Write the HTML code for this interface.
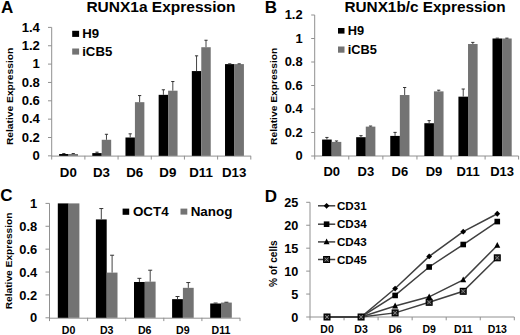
<!DOCTYPE html>
<html><head><meta charset="utf-8"><style>
html,body{margin:0;padding:0;background:#fff;width:520px;height:335px;overflow:hidden}
svg{display:block}
</style></head><body>
<svg width="520" height="335" viewBox="0 0 520 335">
<rect width="520" height="335" fill="#fff"/>
<g font-family='"Liberation Sans", sans-serif' font-weight="bold" fill="#000">
<line x1="51.70" y1="27.40" x2="51.70" y2="159.55" stroke="#909090" stroke-width="1"/>
<line x1="48.00" y1="155.85" x2="51.70" y2="155.85" stroke="#909090" stroke-width="1"/>
<text x="39.90" y="160.05" font-size="13.1" text-anchor="end" >0</text>
<line x1="48.00" y1="137.50" x2="51.70" y2="137.50" stroke="#909090" stroke-width="1"/>
<text x="39.90" y="141.70" font-size="13.1" text-anchor="end" >0.2</text>
<line x1="48.00" y1="119.15" x2="51.70" y2="119.15" stroke="#909090" stroke-width="1"/>
<text x="39.90" y="123.35" font-size="13.1" text-anchor="end" >0.4</text>
<line x1="48.00" y1="100.80" x2="51.70" y2="100.80" stroke="#909090" stroke-width="1"/>
<text x="39.90" y="105.00" font-size="13.1" text-anchor="end" >0.6</text>
<line x1="48.00" y1="82.45" x2="51.70" y2="82.45" stroke="#909090" stroke-width="1"/>
<text x="39.90" y="86.65" font-size="13.1" text-anchor="end" >0.8</text>
<line x1="48.00" y1="64.10" x2="51.70" y2="64.10" stroke="#909090" stroke-width="1"/>
<text x="39.90" y="68.30" font-size="13.1" text-anchor="end" >1</text>
<line x1="48.00" y1="45.75" x2="51.70" y2="45.75" stroke="#909090" stroke-width="1"/>
<text x="39.90" y="49.95" font-size="13.1" text-anchor="end" >1.2</text>
<line x1="48.00" y1="27.40" x2="51.70" y2="27.40" stroke="#909090" stroke-width="1"/>
<text x="39.90" y="31.60" font-size="13.1" text-anchor="end" >1.4</text>
<line x1="51.70" y1="156.10" x2="250.80" y2="156.10" stroke="#909090" stroke-width="1"/>
<line x1="84.88" y1="155.85" x2="84.88" y2="159.55" stroke="#909090" stroke-width="1"/>
<line x1="118.07" y1="155.85" x2="118.07" y2="159.55" stroke="#909090" stroke-width="1"/>
<line x1="151.25" y1="155.85" x2="151.25" y2="159.55" stroke="#909090" stroke-width="1"/>
<line x1="184.43" y1="155.85" x2="184.43" y2="159.55" stroke="#909090" stroke-width="1"/>
<line x1="217.62" y1="155.85" x2="217.62" y2="159.55" stroke="#909090" stroke-width="1"/>
<line x1="250.80" y1="155.85" x2="250.80" y2="159.55" stroke="#909090" stroke-width="1"/>
<rect x="59.10" y="154.01" width="9.45" height="1.84" fill="#000"/>
<line x1="63.83" y1="153.56" x2="63.83" y2="154.01" stroke="#444" stroke-width="1"/>
<line x1="62.23" y1="153.56" x2="65.42" y2="153.56" stroke="#333" stroke-width="1.0"/>
<rect x="68.55" y="154.01" width="9.45" height="1.84" fill="#737373"/>
<line x1="73.27" y1="153.56" x2="73.27" y2="154.01" stroke="#444" stroke-width="1"/>
<line x1="71.67" y1="153.56" x2="74.87" y2="153.56" stroke="#333" stroke-width="1.0"/>
<text x="68.29" y="176.60" font-size="13.3" text-anchor="middle" >D0</text>
<rect x="92.28" y="153.10" width="9.45" height="2.75" fill="#000"/>
<line x1="97.01" y1="152.18" x2="97.01" y2="153.10" stroke="#444" stroke-width="1"/>
<line x1="95.41" y1="152.18" x2="98.61" y2="152.18" stroke="#333" stroke-width="1.0"/>
<rect x="101.73" y="139.79" width="9.45" height="16.06" fill="#737373"/>
<line x1="106.46" y1="134.29" x2="106.46" y2="139.79" stroke="#444" stroke-width="1"/>
<line x1="104.86" y1="134.29" x2="108.06" y2="134.29" stroke="#333" stroke-width="1.0"/>
<text x="101.48" y="176.60" font-size="13.3" text-anchor="middle" >D3</text>
<rect x="125.47" y="137.50" width="9.45" height="18.35" fill="#000"/>
<line x1="130.19" y1="133.83" x2="130.19" y2="137.50" stroke="#444" stroke-width="1"/>
<line x1="128.59" y1="133.83" x2="131.79" y2="133.83" stroke="#333" stroke-width="1.0"/>
<rect x="134.92" y="102.18" width="9.45" height="53.67" fill="#737373"/>
<line x1="139.64" y1="95.57" x2="139.64" y2="102.18" stroke="#444" stroke-width="1"/>
<line x1="138.04" y1="95.57" x2="141.24" y2="95.57" stroke="#333" stroke-width="1.0"/>
<text x="134.66" y="176.60" font-size="13.3" text-anchor="middle" >D6</text>
<rect x="158.65" y="94.84" width="9.45" height="61.01" fill="#000"/>
<line x1="163.38" y1="89.79" x2="163.38" y2="94.84" stroke="#444" stroke-width="1"/>
<line x1="161.78" y1="89.79" x2="164.97" y2="89.79" stroke="#333" stroke-width="1.0"/>
<rect x="168.10" y="90.71" width="9.45" height="65.14" fill="#737373"/>
<line x1="172.82" y1="81.53" x2="172.82" y2="90.71" stroke="#444" stroke-width="1"/>
<line x1="171.22" y1="81.53" x2="174.42" y2="81.53" stroke="#333" stroke-width="1.0"/>
<text x="167.84" y="176.60" font-size="13.3" text-anchor="middle" >D9</text>
<rect x="191.83" y="71.07" width="9.45" height="84.78" fill="#000"/>
<line x1="196.56" y1="55.84" x2="196.56" y2="71.07" stroke="#444" stroke-width="1"/>
<line x1="194.96" y1="55.84" x2="198.16" y2="55.84" stroke="#333" stroke-width="1.0"/>
<rect x="201.28" y="47.22" width="9.45" height="108.63" fill="#737373"/>
<line x1="206.01" y1="40.24" x2="206.01" y2="47.22" stroke="#444" stroke-width="1"/>
<line x1="204.41" y1="40.24" x2="207.61" y2="40.24" stroke="#333" stroke-width="1.0"/>
<text x="201.03" y="176.60" font-size="13.3" text-anchor="middle" >D11</text>
<rect x="225.02" y="64.10" width="9.45" height="91.75" fill="#000"/>
<line x1="229.74" y1="63.82" x2="229.74" y2="64.10" stroke="#444" stroke-width="1"/>
<line x1="228.14" y1="63.82" x2="231.34" y2="63.82" stroke="#333" stroke-width="1.0"/>
<rect x="234.47" y="64.10" width="9.45" height="91.75" fill="#737373"/>
<line x1="239.19" y1="63.82" x2="239.19" y2="64.10" stroke="#444" stroke-width="1"/>
<line x1="237.59" y1="63.82" x2="240.79" y2="63.82" stroke="#333" stroke-width="1.0"/>
<text x="234.21" y="176.60" font-size="13.3" text-anchor="middle" >D13</text>
<line x1="314.70" y1="15.00" x2="314.70" y2="159.50" stroke="#909090" stroke-width="1"/>
<line x1="311.20" y1="156.00" x2="314.70" y2="156.00" stroke="#909090" stroke-width="1"/>
<text x="302.60" y="160.30" font-size="12.9" text-anchor="end" >0</text>
<line x1="311.20" y1="132.50" x2="314.70" y2="132.50" stroke="#909090" stroke-width="1"/>
<text x="302.60" y="136.80" font-size="12.9" text-anchor="end" >0.2</text>
<line x1="311.20" y1="109.00" x2="314.70" y2="109.00" stroke="#909090" stroke-width="1"/>
<text x="302.60" y="113.30" font-size="12.9" text-anchor="end" >0.4</text>
<line x1="311.20" y1="85.50" x2="314.70" y2="85.50" stroke="#909090" stroke-width="1"/>
<text x="302.60" y="89.80" font-size="12.9" text-anchor="end" >0.6</text>
<line x1="311.20" y1="62.00" x2="314.70" y2="62.00" stroke="#909090" stroke-width="1"/>
<text x="302.60" y="66.30" font-size="12.9" text-anchor="end" >0.8</text>
<line x1="311.20" y1="38.50" x2="314.70" y2="38.50" stroke="#909090" stroke-width="1"/>
<text x="302.60" y="42.80" font-size="12.9" text-anchor="end" >1</text>
<line x1="311.20" y1="15.00" x2="314.70" y2="15.00" stroke="#909090" stroke-width="1"/>
<text x="302.60" y="19.30" font-size="12.9" text-anchor="end" >1.2</text>
<line x1="314.70" y1="156.00" x2="518.60" y2="156.00" stroke="#909090" stroke-width="1"/>
<line x1="348.78" y1="156.00" x2="348.78" y2="159.50" stroke="#909090" stroke-width="1"/>
<line x1="382.86" y1="156.00" x2="382.86" y2="159.50" stroke="#909090" stroke-width="1"/>
<line x1="416.94" y1="156.00" x2="416.94" y2="159.50" stroke="#909090" stroke-width="1"/>
<line x1="451.02" y1="156.00" x2="451.02" y2="159.50" stroke="#909090" stroke-width="1"/>
<line x1="485.10" y1="156.00" x2="485.10" y2="159.50" stroke="#909090" stroke-width="1"/>
<line x1="518.60" y1="156.00" x2="518.60" y2="159.50" stroke="#909090" stroke-width="1"/>
<rect x="322.10" y="139.55" width="9.60" height="16.45" fill="#000"/>
<line x1="326.90" y1="137.44" x2="326.90" y2="139.55" stroke="#444" stroke-width="1"/>
<line x1="325.30" y1="137.44" x2="328.50" y2="137.44" stroke="#333" stroke-width="1.0"/>
<rect x="331.70" y="141.90" width="9.60" height="14.10" fill="#737373"/>
<line x1="336.50" y1="140.96" x2="336.50" y2="141.90" stroke="#444" stroke-width="1"/>
<line x1="334.90" y1="140.96" x2="338.10" y2="140.96" stroke="#333" stroke-width="1.0"/>
<text x="331.74" y="176.20" font-size="13.0" text-anchor="middle" >D0</text>
<rect x="356.18" y="137.20" width="9.60" height="18.80" fill="#000"/>
<line x1="360.98" y1="135.67" x2="360.98" y2="137.20" stroke="#444" stroke-width="1"/>
<line x1="359.38" y1="135.67" x2="362.58" y2="135.67" stroke="#333" stroke-width="1.0"/>
<rect x="365.78" y="126.62" width="9.60" height="29.38" fill="#737373"/>
<line x1="370.58" y1="126.04" x2="370.58" y2="126.62" stroke="#444" stroke-width="1"/>
<line x1="368.98" y1="126.04" x2="372.18" y2="126.04" stroke="#333" stroke-width="1.0"/>
<text x="365.82" y="176.20" font-size="13.0" text-anchor="middle" >D3</text>
<rect x="390.26" y="135.91" width="9.60" height="20.09" fill="#000"/>
<line x1="395.06" y1="132.38" x2="395.06" y2="135.91" stroke="#444" stroke-width="1"/>
<line x1="393.46" y1="132.38" x2="396.66" y2="132.38" stroke="#333" stroke-width="1.0"/>
<rect x="399.86" y="95.02" width="9.60" height="60.98" fill="#737373"/>
<line x1="404.66" y1="87.50" x2="404.66" y2="95.02" stroke="#444" stroke-width="1"/>
<line x1="403.06" y1="87.50" x2="406.26" y2="87.50" stroke="#333" stroke-width="1.0"/>
<text x="399.90" y="176.20" font-size="13.0" text-anchor="middle" >D6</text>
<rect x="424.34" y="123.22" width="9.60" height="32.78" fill="#000"/>
<line x1="429.14" y1="120.63" x2="429.14" y2="123.22" stroke="#444" stroke-width="1"/>
<line x1="427.54" y1="120.63" x2="430.74" y2="120.63" stroke="#333" stroke-width="1.0"/>
<rect x="433.94" y="91.38" width="9.60" height="64.62" fill="#737373"/>
<line x1="438.74" y1="90.20" x2="438.74" y2="91.38" stroke="#444" stroke-width="1"/>
<line x1="437.14" y1="90.20" x2="440.34" y2="90.20" stroke="#333" stroke-width="1.0"/>
<text x="433.98" y="176.20" font-size="13.0" text-anchor="middle" >D9</text>
<rect x="458.42" y="96.66" width="9.60" height="59.34" fill="#000"/>
<line x1="463.22" y1="89.02" x2="463.22" y2="96.66" stroke="#444" stroke-width="1"/>
<line x1="461.62" y1="89.02" x2="464.82" y2="89.02" stroke="#333" stroke-width="1.0"/>
<rect x="468.02" y="44.02" width="9.60" height="111.98" fill="#737373"/>
<line x1="472.82" y1="42.38" x2="472.82" y2="44.02" stroke="#444" stroke-width="1"/>
<line x1="471.22" y1="42.38" x2="474.42" y2="42.38" stroke="#333" stroke-width="1.0"/>
<text x="468.06" y="176.20" font-size="13.0" text-anchor="middle" >D11</text>
<rect x="492.50" y="38.50" width="9.60" height="117.50" fill="#000"/>
<line x1="497.30" y1="38.15" x2="497.30" y2="38.50" stroke="#444" stroke-width="1"/>
<line x1="495.70" y1="38.15" x2="498.90" y2="38.15" stroke="#333" stroke-width="1.0"/>
<rect x="502.10" y="38.50" width="9.60" height="117.50" fill="#737373"/>
<line x1="506.90" y1="38.15" x2="506.90" y2="38.50" stroke="#444" stroke-width="1"/>
<line x1="505.30" y1="38.15" x2="508.50" y2="38.15" stroke="#333" stroke-width="1.0"/>
<text x="502.14" y="176.20" font-size="13.0" text-anchor="middle" >D13</text>
<line x1="49.50" y1="203.40" x2="49.50" y2="321.10" stroke="#909090" stroke-width="1"/>
<line x1="45.50" y1="317.80" x2="49.50" y2="317.80" stroke="#909090" stroke-width="1"/>
<text x="37.20" y="322.40" font-size="12.9" text-anchor="end" >0</text>
<line x1="45.50" y1="294.92" x2="49.50" y2="294.92" stroke="#909090" stroke-width="1"/>
<text x="37.20" y="299.52" font-size="12.9" text-anchor="end" >0.2</text>
<line x1="45.50" y1="272.04" x2="49.50" y2="272.04" stroke="#909090" stroke-width="1"/>
<text x="37.20" y="276.64" font-size="12.9" text-anchor="end" >0.4</text>
<line x1="45.50" y1="249.16" x2="49.50" y2="249.16" stroke="#909090" stroke-width="1"/>
<text x="37.20" y="253.76" font-size="12.9" text-anchor="end" >0.6</text>
<line x1="45.50" y1="226.28" x2="49.50" y2="226.28" stroke="#909090" stroke-width="1"/>
<text x="37.20" y="230.88" font-size="12.9" text-anchor="end" >0.8</text>
<line x1="45.50" y1="203.40" x2="49.50" y2="203.40" stroke="#909090" stroke-width="1"/>
<text x="37.20" y="208.00" font-size="12.9" text-anchor="end" >1</text>
<line x1="49.50" y1="318.20" x2="240.00" y2="318.20" stroke="#909090" stroke-width="1"/>
<line x1="87.60" y1="317.80" x2="87.60" y2="321.10" stroke="#909090" stroke-width="1"/>
<line x1="125.70" y1="317.80" x2="125.70" y2="321.10" stroke="#909090" stroke-width="1"/>
<line x1="163.80" y1="317.80" x2="163.80" y2="321.10" stroke="#909090" stroke-width="1"/>
<line x1="201.90" y1="317.80" x2="201.90" y2="321.10" stroke="#909090" stroke-width="1"/>
<line x1="240.00" y1="317.80" x2="240.00" y2="321.10" stroke="#909090" stroke-width="1"/>
<rect x="57.80" y="203.40" width="10.80" height="114.40" fill="#000"/>
<rect x="68.60" y="203.40" width="10.80" height="114.40" fill="#737373"/>
<text x="68.55" y="333.90" font-size="10.6" text-anchor="middle" >D0</text>
<rect x="95.90" y="219.42" width="10.80" height="98.38" fill="#000"/>
<line x1="101.30" y1="208.55" x2="101.30" y2="219.42" stroke="#444" stroke-width="1"/>
<line x1="99.30" y1="208.55" x2="103.30" y2="208.55" stroke="#333" stroke-width="1.0"/>
<rect x="106.70" y="272.61" width="10.80" height="45.19" fill="#737373"/>
<line x1="112.10" y1="255.22" x2="112.10" y2="272.61" stroke="#444" stroke-width="1"/>
<line x1="110.10" y1="255.22" x2="114.10" y2="255.22" stroke="#333" stroke-width="1.0"/>
<text x="106.65" y="333.90" font-size="10.6" text-anchor="middle" >D3</text>
<rect x="134.00" y="281.99" width="10.80" height="35.81" fill="#000"/>
<line x1="139.40" y1="278.33" x2="139.40" y2="281.99" stroke="#444" stroke-width="1"/>
<line x1="137.40" y1="278.33" x2="141.40" y2="278.33" stroke="#333" stroke-width="1.0"/>
<rect x="144.80" y="281.65" width="10.80" height="36.15" fill="#737373"/>
<line x1="150.20" y1="270.21" x2="150.20" y2="281.65" stroke="#444" stroke-width="1"/>
<line x1="148.20" y1="270.21" x2="152.20" y2="270.21" stroke="#333" stroke-width="1.0"/>
<text x="144.75" y="333.90" font-size="10.6" text-anchor="middle" >D6</text>
<rect x="172.10" y="299.15" width="10.80" height="18.65" fill="#000"/>
<line x1="177.50" y1="296.52" x2="177.50" y2="299.15" stroke="#444" stroke-width="1"/>
<line x1="175.50" y1="296.52" x2="179.50" y2="296.52" stroke="#333" stroke-width="1.0"/>
<rect x="182.90" y="287.83" width="10.80" height="29.97" fill="#737373"/>
<line x1="188.30" y1="282.56" x2="188.30" y2="287.83" stroke="#444" stroke-width="1"/>
<line x1="186.30" y1="282.56" x2="190.30" y2="282.56" stroke="#333" stroke-width="1.0"/>
<text x="182.85" y="333.90" font-size="10.6" text-anchor="middle" >D9</text>
<rect x="210.20" y="303.50" width="10.80" height="14.30" fill="#000"/>
<line x1="215.60" y1="303.04" x2="215.60" y2="303.50" stroke="#444" stroke-width="1"/>
<line x1="213.60" y1="303.04" x2="217.60" y2="303.04" stroke="#333" stroke-width="1.0"/>
<rect x="221.00" y="302.58" width="10.80" height="15.22" fill="#737373"/>
<line x1="226.40" y1="302.24" x2="226.40" y2="302.58" stroke="#444" stroke-width="1"/>
<line x1="224.40" y1="302.24" x2="228.40" y2="302.24" stroke="#333" stroke-width="1.0"/>
<text x="220.95" y="333.90" font-size="10.6" text-anchor="middle" >D11</text>
<text x="0.90" y="13.40" font-size="17" text-anchor="start" >A</text>
<text x="264.70" y="13.40" font-size="17" text-anchor="start" >B</text>
<text x="0.30" y="201.40" font-size="17" text-anchor="start" >C</text>
<text x="264.70" y="201.60" font-size="17" text-anchor="start" >D</text>
<text x="86.40" y="12.45" font-size="15.5" text-anchor="start" >RUNX1a Expression</text>
<text x="344.40" y="12.10" font-size="15.35" text-anchor="start" >RUNX1b/c Expression</text>
<rect x="72.20" y="30.80" width="6.90" height="6.10" fill="#000"/>
<text x="82.20" y="37.80" font-size="13.2" text-anchor="start" >H9</text>
<rect x="72.20" y="48.50" width="6.90" height="6.10" fill="#737373"/>
<text x="82.20" y="55.60" font-size="13.2" text-anchor="start" >iCB5</text>
<rect x="338.00" y="28.00" width="6.50" height="5.60" fill="#000"/>
<text x="347.70" y="34.80" font-size="12.8" text-anchor="start" >H9</text>
<rect x="338.00" y="46.50" width="6.50" height="6.20" fill="#737373"/>
<text x="347.70" y="53.60" font-size="12.8" text-anchor="start" >iCB5</text>
<rect x="122.60" y="208.60" width="6.60" height="6.20" fill="#000"/>
<text x="132.90" y="215.80" font-size="13.4" text-anchor="start" >OCT4</text>
<rect x="180.50" y="208.60" width="6.80" height="6.00" fill="#737373"/>
<text x="190.70" y="215.80" font-size="13.4" text-anchor="start" >Nanog</text>
<text x="0" y="0" font-size="10.26" text-anchor="middle" transform="translate(13.30,96.40) rotate(-90) scale(1,0.95)">Relative Expression</text>
<text x="0" y="0" font-size="10.25" text-anchor="middle" transform="translate(276.70,96.30) rotate(-90) scale(1,0.92)">Relative Expression</text>
<text x="0" y="0" font-size="10.2" text-anchor="middle" transform="translate(12.40,260.90) rotate(-90) scale(1,0.92)">Relative Expression</text>
<text x="0" y="0" font-size="10.1" text-anchor="middle" transform="translate(277.00,263.60) rotate(-90) scale(1,1.0)">% of cells</text>
<line x1="310.00" y1="202.30" x2="310.00" y2="320.30" stroke="#909090" stroke-width="1"/>
<line x1="306.20" y1="317.00" x2="310.00" y2="317.00" stroke="#909090" stroke-width="1"/>
<text x="298.40" y="321.70" font-size="12.7" text-anchor="end" >0</text>
<line x1="306.20" y1="294.06" x2="310.00" y2="294.06" stroke="#909090" stroke-width="1"/>
<text x="298.40" y="298.76" font-size="12.7" text-anchor="end" >5</text>
<line x1="306.20" y1="271.12" x2="310.00" y2="271.12" stroke="#909090" stroke-width="1"/>
<text x="298.40" y="275.82" font-size="12.7" text-anchor="end" >10</text>
<line x1="306.20" y1="248.18" x2="310.00" y2="248.18" stroke="#909090" stroke-width="1"/>
<text x="298.40" y="252.88" font-size="12.7" text-anchor="end" >15</text>
<line x1="306.20" y1="225.24" x2="310.00" y2="225.24" stroke="#909090" stroke-width="1"/>
<text x="298.40" y="229.94" font-size="12.7" text-anchor="end" >20</text>
<line x1="306.20" y1="202.30" x2="310.00" y2="202.30" stroke="#909090" stroke-width="1"/>
<text x="298.40" y="207.00" font-size="12.7" text-anchor="end" >25</text>
<line x1="310.00" y1="317.00" x2="514.30" y2="317.00" stroke="#909090" stroke-width="1"/>
<line x1="344.05" y1="317.00" x2="344.05" y2="320.30" stroke="#909090" stroke-width="1"/>
<line x1="378.10" y1="317.00" x2="378.10" y2="320.30" stroke="#909090" stroke-width="1"/>
<line x1="412.15" y1="317.00" x2="412.15" y2="320.30" stroke="#909090" stroke-width="1"/>
<line x1="446.20" y1="317.00" x2="446.20" y2="320.30" stroke="#909090" stroke-width="1"/>
<line x1="480.25" y1="317.00" x2="480.25" y2="320.30" stroke="#909090" stroke-width="1"/>
<line x1="514.30" y1="317.00" x2="514.30" y2="320.30" stroke="#909090" stroke-width="1"/>
<text x="327.02" y="332.60" font-size="10.5" text-anchor="middle" >D0</text>
<text x="361.07" y="332.60" font-size="10.5" text-anchor="middle" >D3</text>
<text x="395.12" y="332.60" font-size="10.5" text-anchor="middle" >D6</text>
<text x="429.17" y="332.60" font-size="10.5" text-anchor="middle" >D9</text>
<text x="463.22" y="332.60" font-size="10.5" text-anchor="middle" >D11</text>
<text x="497.27" y="332.60" font-size="10.5" text-anchor="middle" >D13</text>
<path d="M327.02 317.00 L361.07 317.00 L395.12 288.55 L429.17 256.44 L463.22 231.66 L497.27 213.77" fill="none" stroke="#404040" stroke-width="1.5"/>
<path d="M327.02 317.00 L361.07 317.00 L395.12 295.44 L429.17 266.99 L463.22 244.51 L497.27 221.57" fill="none" stroke="#404040" stroke-width="1.5"/>
<path d="M327.02 317.00 L361.07 317.00 L395.12 305.99 L429.17 296.81 L463.22 279.84 L497.27 245.43" fill="none" stroke="#404040" stroke-width="1.5"/>
<path d="M327.02 317.00 L361.07 317.00 L395.12 312.87 L429.17 302.32 L463.22 291.31 L497.27 257.81" fill="none" stroke="#404040" stroke-width="1.5"/>
<path d="M327.02 314.10L329.92 317.00L327.02 319.90L324.12 317.00Z" fill="#000"/>
<path d="M361.07 314.10L363.97 317.00L361.07 319.90L358.18 317.00Z" fill="#000"/>
<path d="M395.12 285.65L398.02 288.55L395.12 291.45L392.23 288.55Z" fill="#000"/>
<path d="M429.17 253.54L432.07 256.44L429.17 259.34L426.27 256.44Z" fill="#000"/>
<path d="M463.22 228.76L466.12 231.66L463.22 234.56L460.32 231.66Z" fill="#000"/>
<path d="M497.27 210.87L500.17 213.77L497.27 216.67L494.38 213.77Z" fill="#000"/>
<rect x="324.22" y="314.20" width="5.60" height="5.60" fill="#000"/>
<rect x="358.27" y="314.20" width="5.60" height="5.60" fill="#000"/>
<rect x="392.32" y="292.64" width="5.60" height="5.60" fill="#000"/>
<rect x="426.37" y="264.19" width="5.60" height="5.60" fill="#000"/>
<rect x="460.42" y="241.71" width="5.60" height="5.60" fill="#000"/>
<rect x="494.47" y="218.77" width="5.60" height="5.60" fill="#000"/>
<path d="M327.02 313.60L330.02 319.40L324.02 319.40Z" fill="#000"/>
<path d="M361.07 313.60L364.07 319.40L358.07 319.40Z" fill="#000"/>
<path d="M395.12 302.59L398.12 308.39L392.12 308.39Z" fill="#000"/>
<path d="M429.17 293.41L432.17 299.21L426.17 299.21Z" fill="#000"/>
<path d="M463.22 276.44L466.22 282.24L460.22 282.24Z" fill="#000"/>
<path d="M497.27 242.03L500.27 247.83L494.27 247.83Z" fill="#000"/>
<rect x="324.12" y="314.10" width="5.80" height="5.80" fill="#2a2a2a" stroke="#000" stroke-width="1.2"/>
<path d="M325.12 315.10L328.92 318.90M328.92 315.10L325.12 318.90" stroke="#8a8a8a" stroke-width="0.9"/>
<rect x="358.18" y="314.10" width="5.80" height="5.80" fill="#2a2a2a" stroke="#000" stroke-width="1.2"/>
<path d="M359.18 315.10L362.97 318.90M362.97 315.10L359.18 318.90" stroke="#8a8a8a" stroke-width="0.9"/>
<rect x="392.23" y="309.97" width="5.80" height="5.80" fill="#2a2a2a" stroke="#000" stroke-width="1.2"/>
<path d="M393.23 310.97L397.02 314.77M397.02 310.97L393.23 314.77" stroke="#8a8a8a" stroke-width="0.9"/>
<rect x="426.27" y="299.42" width="5.80" height="5.80" fill="#2a2a2a" stroke="#000" stroke-width="1.2"/>
<path d="M427.27 300.42L431.07 304.22M431.07 300.42L427.27 304.22" stroke="#8a8a8a" stroke-width="0.9"/>
<rect x="460.32" y="288.41" width="5.80" height="5.80" fill="#2a2a2a" stroke="#000" stroke-width="1.2"/>
<path d="M461.32 289.41L465.12 293.21M465.12 289.41L461.32 293.21" stroke="#8a8a8a" stroke-width="0.9"/>
<rect x="494.38" y="254.91" width="5.80" height="5.80" fill="#2a2a2a" stroke="#000" stroke-width="1.2"/>
<path d="M495.38 255.91L499.17 259.71M499.17 255.91L495.38 259.71" stroke="#8a8a8a" stroke-width="0.9"/>
<line x1="318.00" y1="205.80" x2="335.20" y2="205.80" stroke="#404040" stroke-width="1.5"/>
<path d="M326.60 202.90L329.50 205.80L326.60 208.70L323.70 205.80Z" fill="#000"/>
<text x="337.00" y="209.80" font-size="11.6" text-anchor="start" >CD31</text>
<line x1="318.00" y1="224.20" x2="335.20" y2="224.20" stroke="#404040" stroke-width="1.5"/>
<rect x="323.80" y="221.40" width="5.60" height="5.60" fill="#000"/>
<text x="337.00" y="228.20" font-size="11.6" text-anchor="start" >CD34</text>
<line x1="318.00" y1="241.90" x2="335.20" y2="241.90" stroke="#404040" stroke-width="1.5"/>
<path d="M326.60 238.50L329.60 244.30L323.60 244.30Z" fill="#000"/>
<text x="337.00" y="245.90" font-size="11.6" text-anchor="start" >CD43</text>
<line x1="318.00" y1="259.50" x2="335.20" y2="259.50" stroke="#404040" stroke-width="1.5"/>
<rect x="323.70" y="256.60" width="5.80" height="5.80" fill="#2a2a2a" stroke="#000" stroke-width="1.2"/>
<path d="M324.70 257.60L328.50 261.40M328.50 257.60L324.70 261.40" stroke="#8a8a8a" stroke-width="0.9"/>
<text x="337.00" y="263.50" font-size="11.6" text-anchor="start" >CD45</text>
</g>
</svg>
</body></html>
